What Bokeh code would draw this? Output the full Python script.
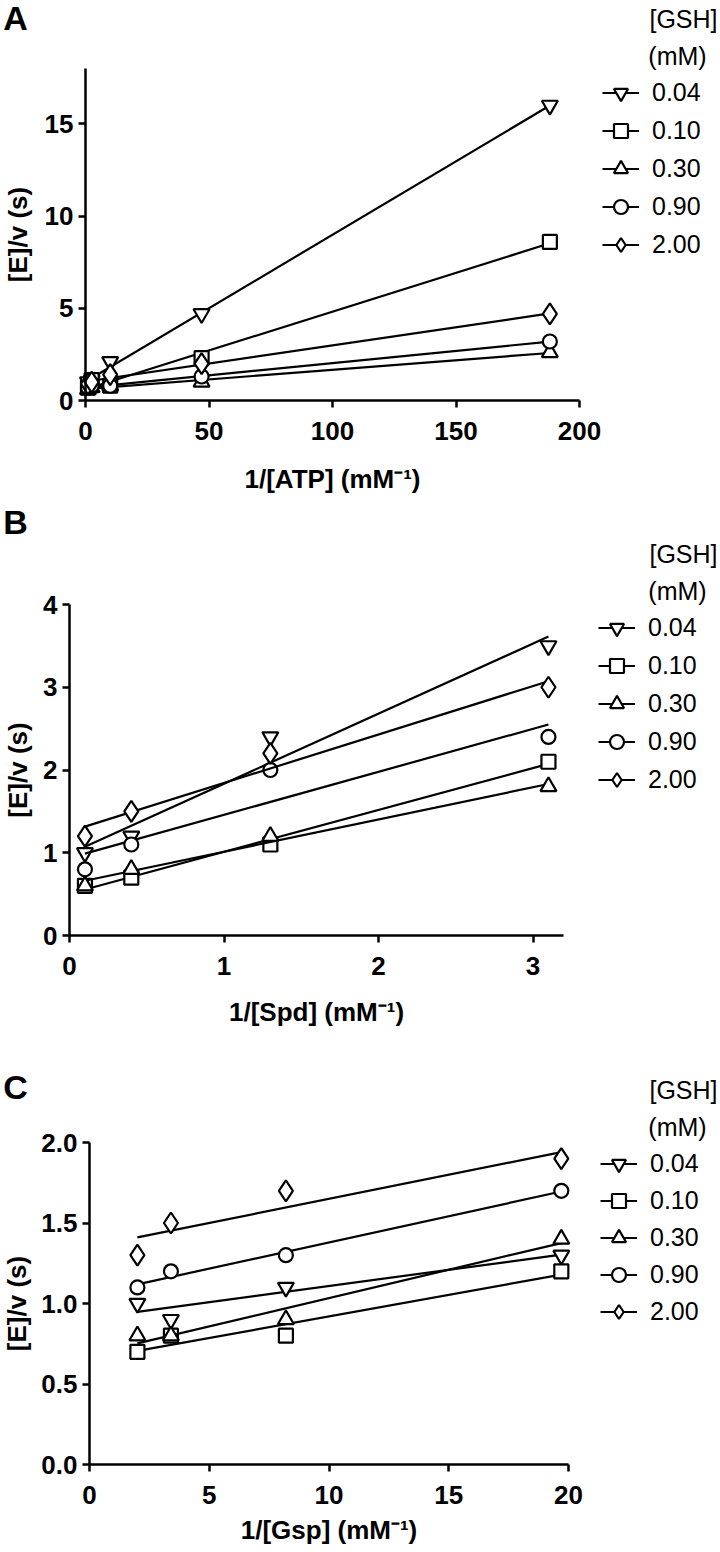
import numpy as np
from bokeh.plotting import figure
from bokeh.models import Legend, LegendItem, Label, FixedTicker, Range1d, NumeralTickFormatter, LinearAxis
from bokeh.layouts import column
from bokeh.embed import file_html
from bokeh.resources import INLINE

# ---------------- data ----------------
gsh_levels = ["0.04", "0.10", "0.30", "0.90", "2.00"]
markers = ["inverted_triangle", "square", "triangle", "circle", "diamond"]

# Panel A: 1/[ATP] (mM^-1)
atp_x = [1.0, 2.5, 10.0, 47.0, 188.0]
atp_004 = [1.0, 1.1, 2.1, 4.7, 16.0]
atp_010 = [0.7, 1.1, 0.8, 2.3, 8.6]
atp_030 = [0.6, 0.7, 0.8, 1.0, 2.6]
atp_090 = [0.7, 0.8, 0.8, 1.3, 3.2]
atp_200 = [0.9, 1.0, 1.4, 2.0, 4.7]

# Panel B: 1/[Spd] (mM^-1)
spd_x = [0.1, 0.4, 1.3, 3.1]
spd_004 = [1.0, 1.2, 2.4, 3.5]
spd_010 = [0.6, 0.7, 1.1, 2.1]
spd_030 = [0.6, 0.8, 1.2, 1.8]
spd_090 = [0.8, 1.1, 2.0, 2.4]
spd_200 = [1.2, 1.5, 2.2, 3.0]

# Panel C: 1/[Gsp] (mM^-1)
gsp_x = [2.0, 3.4, 8.2, 19.7]
gsp_004 = [1.0, 0.9, 1.1, 1.3]
gsp_010 = [0.7, 0.8, 0.8, 1.2]
gsp_030 = [0.8, 0.8, 0.9, 1.4]
gsp_090 = [1.1, 1.2, 1.3, 1.7]
gsp_200 = [1.3, 1.5, 1.7, 1.9]

atp_ticks_x = [0, 50, 100, 150, 200]
atp_ticks_y = [0, 5, 10, 15]
spd_ticks_x = [0, 1, 2, 3]
spd_ticks_y = [0, 1, 2, 3, 4]
gsp_ticks_x = [0, 5, 10, 15, 20]
gsp_ticks_y = [0.0, 0.5, 1.0, 1.5, 2.0]

FONT = "Liberation Sans"
PAGE_L, PAGE_R = 0, 720
FIG_W = PAGE_R - PAGE_L


def make_panel(letter, xs, series, xlabel, xmax, ymax, xticks, yticks, yfmt, geo):
    fig_top, H = geo["top"], geo["h"]
    x0p, x1p = geo["xpx"]          # page px of x=0 and x=xmax
    y0p, y1p = geo["ypx"]          # page px of y=0 and y=ymax
    kx = (x1p - x0p) / xmax
    ky = (y0p - y1p) / ymax
    xr = Range1d(-(x0p - PAGE_L) / kx, xmax + (PAGE_R - x1p) / kx)
    yr = Range1d(-(fig_top + H - y0p) / ky, ymax + (y1p - fig_top) / ky)

    def dx(px):
        return (px - x0p) / kx

    def dy(py):
        return (y0p - py) / ky

    p = figure(width=FIG_W, height=H, output_backend="svg", toolbar_location=None,
               x_range=xr, y_range=yr, x_axis_location=None, y_axis_location=None,
               min_border=0, min_border_left=0, min_border_right=0,
               min_border_top=0, min_border_bottom=0)
    for g in p.grid:
        g.visible = False
    p.outline_line_color = None
    p.background_fill_color = "white"
    p.border_fill_color = "white"

    xaxis = LinearAxis(fixed_location=0, bounds=(0, xmax), ticker=FixedTicker(ticks=xticks),
                       axis_label=xlabel)
    yaxis = LinearAxis(fixed_location=0, bounds=(0, ymax), ticker=FixedTicker(ticks=yticks),
                       axis_label="[E]/v (s)")
    if yfmt:
        yaxis.formatter = NumeralTickFormatter(format=yfmt)
    for ax in (xaxis, yaxis):
        ax.axis_line_width = 2.5
        ax.axis_line_color = "black"
        ax.major_tick_line_width = 2.5
        ax.major_tick_line_color = "black"
        ax.major_tick_out = 7
        ax.major_tick_in = 0
        ax.minor_tick_out = 0
        ax.minor_tick_in = 0
        ax.major_label_text_font = FONT
        ax.major_label_text_font_style = "bold"
        ax.major_label_text_font_size = "26px"
        ax.major_label_text_color = "black"
        ax.axis_label_text_font = FONT
        ax.axis_label_text_font_style = "bold"
        ax.axis_label_text_font_size = "26px"
        ax.axis_label_text_color = "black"
    xaxis.major_label_standoff = 14
    yaxis.major_label_standoff = 5
    xaxis.axis_label_standoff = geo["xstd"]
    yaxis.axis_label_standoff = geo["ystd"]
    p.add_layout(xaxis, "below")
    p.add_layout(yaxis, "left")

    items = []
    for lvl, mk, ys in zip(gsh_levels, markers, series):
        xa = np.array(xs, dtype=float)
        ya = np.array(ys, dtype=float)
        slope, icpt = np.polyfit(xa, ya, 1)
        xx = np.array([xa.min(), xa.max()])
        lr = p.line(xx, icpt + slope * xx, line_color="black", line_width=2.2)
        size = {"diamond": 21, "inverted_triangle": 16, "triangle": 16}.get(mk, 14)
        sr = p.scatter(xa, ya, marker=mk, size=size, fill_color="white",
                       line_color="black", line_width=2.2)
        items.append(LegendItem(label=lvl, renderers=[lr, sr]))

    gh = 35
    sp = geo["leg_sp"]
    leg_h = 5 * gh + 4 * sp
    leg_top = geo["leg_y0"] - gh / 2
    legend = Legend(items=items,
                    location=(geo["leg_x"] - PAGE_L, H - (leg_top - fig_top) - leg_h),
                    orientation="vertical", glyph_width=37, glyph_height=gh,
                    label_height=gh, spacing=sp, padding=0, margin=0,
                    label_standoff=13, label_text_font=FONT, label_text_font_size="25px",
                    label_text_color="black", border_line_alpha=0, background_fill_alpha=0)
    p.add_layout(legend)

    for txt, px, py in (("[GSH]", 683, geo["leg_y0"] - 74), ("(mM)", 677, geo["leg_y0"] - 37)):
        p.add_layout(Label(x=dx(px), y=dy(py), text=txt, text_align="center",
                           text_baseline="middle", text_font=FONT, text_font_size="25px",
                           text_color="black"))
    p.add_layout(Label(x=dx(15), y=dy(geo["letter_y"]), text=letter, text_align="center",
                       text_baseline="middle", text_font=FONT, text_font_size="34px",
                       text_font_style="bold", text_color="black"))
    return p


geoA = dict(top=0, h=500, xpx=(85, 579), ypx=(400, 68), xstd=21, ystd=9,
            leg_x=602, leg_y0=92, leg_sp=3, letter_y=17)
geoB = dict(top=500, h=540, xpx=(69, 563.4), ypx=(935, 604), xstd=19, ystd=7,
            leg_x=598, leg_y0=627, leg_sp=3, letter_y=521)
geoC = dict(top=1040, h=510, xpx=(89, 568), ypx=(1464, 1142), xstd=8, ystd=6,
            leg_x=600, leg_y0=1163, leg_sp=2, letter_y=1086)

pA = make_panel("A", atp_x, [atp_004, atp_010, atp_030, atp_090, atp_200],
                "1/[ATP] (mM\u207b\u00b9)", 200, 18, atp_ticks_x, atp_ticks_y, None, geoA)
pB = make_panel("B", spd_x, [spd_004, spd_010, spd_030, spd_090, spd_200],
                "1/[Spd] (mM\u207b\u00b9)", 3.2, 4, spd_ticks_x, spd_ticks_y, None, geoB)
pC = make_panel("C", gsp_x, [gsp_004, gsp_010, gsp_030, gsp_090, gsp_200],
                "1/[Gsp] (mM\u207b\u00b9)", 20, 2, gsp_ticks_x, gsp_ticks_y, "0.0", geoC)

layout = column(pA, pB, pC, spacing=0)
open("out.html", "w").write(file_html(layout, INLINE))
